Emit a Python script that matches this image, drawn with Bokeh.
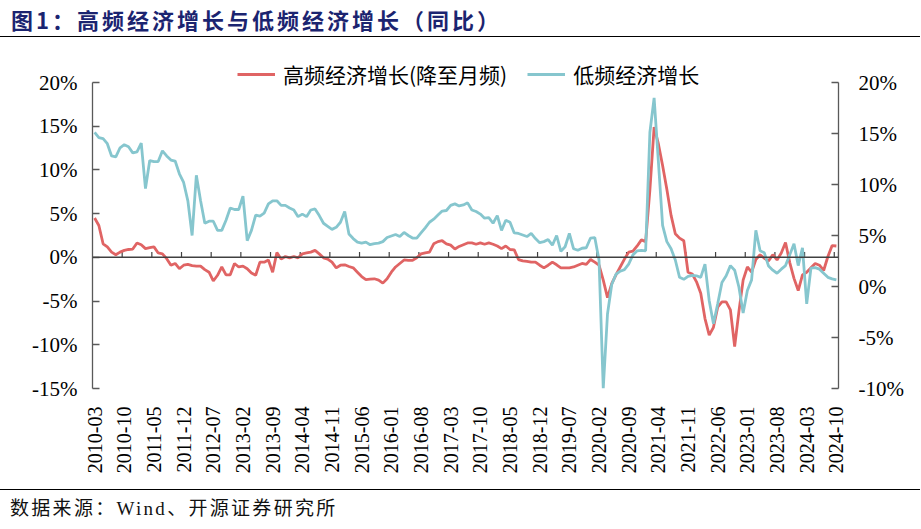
import math
import pandas as pd
from bokeh.plotting import figure
from bokeh.models import (Range1d, LinearAxis, FixedTicker, PrintfTickFormatter,
                          CustomJSTickFormatter, Span, Div, ColumnDataSource)
from bokeh.layouts import column
from bokeh.embed import file_html
from bokeh.resources import INLINE

# ---------------- data ----------------
months = list(pd.date_range("2010-03-01", periods=176, freq="MS").strftime("%Y-%m"))

high_freq = [  # 高频经济增长(降至月频), left axis, %
    4.5, 3.65, 1.55, 1.2, 0.6, 0.3, 0.6, 0.8, 0.9, 0.95,
    1.65, 1.45, 1.0, 1.1, 1.2, 0.5, 0.4, -0.15, -0.9, -0.7,
    -1.3, -0.9, -0.8, -0.95, -1.0, -1.0, -1.4, -1.7, -2.7, -2.05,
    -1.1, -2.0, -2.0, -0.7, -1.1, -1.0, -1.3, -1.8, -2.05, -0.55,
    -0.55, -0.3, -1.7, 0.55, -0.2, 0.1, -0.05, 0.1, -0.05, 0.4,
    0.5, 0.6, 0.8, 0.4, -0.05, -0.2, -0.55, -1.2, -0.9, -0.85,
    -1.05, -1.2, -1.7, -2.2, -2.55, -2.5, -2.45, -2.6, -2.95, -2.45,
    -1.7, -1.1, -0.7, -0.3, -0.35, -0.35, -0.05, 0.4, 0.5, 0.6,
    1.55, 1.8, 1.9, 1.55, 1.4, 0.95, 1.25, 1.45, 1.65, 1.65,
    1.5, 1.65, 1.5, 1.65, 1.5, 1.3, 1.0, 1.3, 0.9, 0.85,
    -0.25, -0.4, -0.45, -0.55, -0.55, -0.9, -1.2, -0.9, -0.55, -0.85,
    -1.2, -1.2, -1.2, -1.1, -0.9, -0.7, -0.8, -0.25, -0.55, -0.9,
    -2.6, -4.6, -3.0, -2.0, -1.1, -0.2, 0.6, 0.7, 1.3, 2.0,
    1.8, 7.7, 14.9, 13.0, 10.5, 7.8, 4.8, 2.7, 2.2, 1.9,
    -1.7, -1.9, -2.8, -4.1, -7.0, -8.9, -8.0, -5.7, -5.1, -5.1,
    -6.0, -10.2, -6.2, -2.6, -1.1, -1.7, -0.25, 0.3, -0.1, -0.4,
    0.3, -0.3, 0.5, 1.7, -0.6, -2.4, -3.8, -2.0, -1.7, -1.2,
    -0.7, -0.9, -1.5, 0.1, 1.35, 1.3,
]

low_freq = [  # 低频经济增长, right axis, %
    15.1, 14.6, 14.5, 14.0, 12.8, 12.7, 13.6, 13.9, 13.7, 13.1,
    13.2, 14.05, 9.6, 12.35, 12.25, 12.25, 13.3, 12.8, 12.4, 12.3,
    11.05, 10.2, 8.4, 5.0, 10.9, 8.4, 6.2, 6.4, 6.4, 5.5,
    5.5, 6.5, 7.7, 7.55, 7.55, 8.85, 4.5, 5.5, 7.0, 6.9,
    7.2, 8.1, 8.4, 8.4, 7.95, 7.95, 7.7, 7.5, 6.85, 7.1,
    6.85, 7.5, 7.6, 6.95, 6.2, 5.9, 5.6, 5.8, 6.3, 7.35,
    5.15, 4.7, 4.35, 4.25, 4.35, 4.1, 4.2, 4.25, 4.4, 4.8,
    4.95, 5.1, 4.9, 5.3, 5.0, 4.75, 4.75, 5.25, 5.75, 6.3,
    6.6, 7.0, 7.4, 7.45, 7.95, 8.1, 7.9, 8.0, 8.2, 7.5,
    7.35, 7.1, 6.7, 6.75, 6.2, 6.95, 5.5, 6.5, 6.3, 5.25,
    5.2, 5.05, 4.9, 5.2, 4.7, 4.3, 4.4, 4.6, 4.05, 5.0,
    3.45, 3.9, 5.2, 3.7, 3.55, 3.75, 3.8, 4.75, 4.8, 2.6,
    -10.0, -2.7, 0.2, 1.2, 1.5, 1.65, 2.2, 3.1, 3.5, 3.55,
    3.5, 15.1, 18.5, 12.3, 6.0, 4.4, 3.7, 2.6, 0.9, 0.7,
    1.0, 1.1, 1.05, 0.9, 2.2, -1.4, -3.65, -1.7, 0.4, 1.05,
    2.05, 1.6, -0.05, -2.6, -0.4, 0.65, 5.5, 3.5, 3.3, 2.0,
    1.6, 1.3, 1.7, 2.05, 3.1, 4.2, 2.05, 3.8, -1.7, 1.8,
    1.85, 1.7, 1.3, 0.9, 0.75, 0.65,
]

label_step = 7
label_idx = list(range(0, len(months), label_step))
title_text = "图1：高频经济增长与低频经济增长（同比）"
source_text = "数据来源：Wind、开源证券研究所"
name_high = "高频经济增长(降至月频)"
name_low = "低频经济增长"
left_lim = (-15, 20)
right_lim = (-10, 20)

# ---------------- styling / layout ----------------
RED = "#E06464"
TEAL = "#86C6CE"
NAVY = "#1B2470"
SERIF = "Liberation Serif"
CJK = "Noto Sans CJK SC"
W = 920
AX_H = 306          # pixel height spanned by the y axes
HEADROOM = 34       # extra frame space above the axes (for the legend)

def padded(lim):
    span = lim[1] - lim[0]
    return Range1d(lim[0], lim[1] + HEADROOM * span / AX_H)

x = list(range(len(months)))
src = ColumnDataSource(dict(x=x, hi=high_freq, lo=low_freq))

p = figure(width=W, height=450, output_backend="svg", toolbar_location=None,
           x_range=Range1d(-0.5, len(months) - 0.5), y_range=padded(left_lim),
           min_border_left=92, min_border_right=W - 838, min_border_top=43 - HEADROOM,
           min_border_bottom=101, x_axis_location=None, y_axis_location=None,
           margin=0)
p.outline_line_color = None
p.grid.visible = False
p.background_fill_color = "white"
p.border_fill_color = "white"
p.extra_y_ranges = {"right": padded(right_lim)}

# zero line (category axis crossing) with its tick marks
p.add_layout(Span(location=0, dimension="width", line_color="#404040", line_width=1.5))
tick_pos = [i - 0.5 for i in label_idx[1:]] + [len(months) - 0.5]
p.segment(x0=tick_pos, y0=[0] * len(tick_pos), x1=tick_pos, y1=[0.6] * len(tick_pos),
          line_color="#404040", line_width=1.2)

p.line("x", "hi", source=src, line_color=RED, line_width=2.8, legend_label=name_high)
p.line("x", "lo", source=src, line_color=TEAL, line_width=2.8, y_range_name="right",
       legend_label=name_low)

# x axis (labels only, at the bottom)
xax = LinearAxis(ticker=FixedTicker(ticks=label_idx),
                 formatter=CustomJSTickFormatter(args=dict(labels=months),
                                                 code="return labels[Math.round(tick)] || '';"))
xax.axis_line_color = None
xax.major_tick_line_color = None
xax.minor_tick_line_color = None
xax.major_label_orientation = math.pi / 2
xax.major_label_standoff = 12
xax.major_label_text_font = SERIF
xax.major_label_text_font_size = "20px"
xax.major_label_text_color = "black"
p.add_layout(xax, "below")

def style_y(ax, standoff):
    ax.axis_line_color = "#595959"
    ax.axis_line_width = 1.3
    ax.major_tick_line_color = "#595959"
    ax.major_tick_line_width = 1.3
    ax.major_tick_in = 7
    ax.major_tick_out = 0
    ax.minor_tick_line_color = None
    ax.major_label_standoff = standoff
    ax.major_label_text_font = SERIF
    ax.major_label_text_font_size = "21px"
    ax.major_label_text_color = "black"
    ax.formatter = PrintfTickFormatter(format="%d%%")

yl = LinearAxis(ticker=FixedTicker(ticks=list(range(left_lim[0], left_lim[1] + 1, 5))),
                bounds=left_lim)
style_y(yl, 15)
p.add_layout(yl, "left")
yr = LinearAxis(y_range_name="right", bounds=right_lim,
                ticker=FixedTicker(ticks=list(range(right_lim[0], right_lim[1] + 1, 5))))
style_y(yr, 20)
p.add_layout(yr, "right")

lg = p.legend[0]
lg.location = (145, AX_H - 7)
lg.orientation = "horizontal"
lg.border_line_color = None
lg.background_fill_alpha = 0
lg.padding = 0
lg.margin = 0
lg.spacing = 20
lg.glyph_width = 38
lg.glyph_height = 22
lg.label_height = 22
lg.label_standoff = 8
lg.label_text_font = CJK
lg.label_text_font_size = "21px"
lg.label_text_color = "black"

title_div = Div(width=W, height=39, margin=0, text=(
    f"<div style=\"font-family:'{CJK}';font-weight:bold;font-size:22px;color:{NAVY};"
    f"letter-spacing:3px;line-height:38px;height:37px;padding-left:11px;"
    f"border-bottom:1.5px solid #000;width:{W}px;white-space:nowrap;\">{title_text}</div>"))
source_div = Div(width=W, height=39, margin=0, text=(
    f"<div style=\"font-family:'{SERIF}','{CJK}';font-size:19px;color:#111;"
    f"letter-spacing:2.3px;line-height:38px;height:37px;padding-left:10px;"
    f"border-top:1.5px solid #000;width:{W}px;white-space:nowrap;\">{source_text}</div>"))

layout = column(title_div, p, source_div, spacing=0)
open("out.html", "w").write(file_html(layout, INLINE))
